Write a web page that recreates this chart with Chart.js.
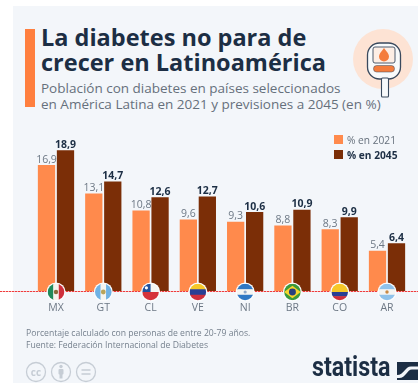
<!DOCTYPE html>
<html lang="es">
<head>
<meta charset="utf-8">
<title>La diabetes no para de crecer en Latinoamérica</title>
<script src="https://cdn.jsdelivr.net/npm/chart.js@4"></script>
<style>
  html, body { margin: 0; padding: 0; background: #fff; }
  #page { position: relative; width: 418px; height: 383px; overflow: hidden; font-family: "Open Sans", sans-serif; }
  #panel { position: absolute; left: 13px; top: 6px; right: 0; bottom: 0; background: #f3f6fa; }
  #accent { position: absolute; left: 25px; top: 29px; width: 10px; height: 78px; background: #ff7f3f; }
  canvas { position: absolute; left: 0; top: 0; }
  .t { position: absolute; white-space: nowrap; }
  #title { left: 41px; top: 25px; font-size: 23.5px; font-weight: 700; line-height: 24.5px; color: #1c2e44; }
  #subtitle { left: 41px; top: 81px; font-size: 13.5px; line-height: 15.5px; color: #66707c; }
  .legend-swatch { position: absolute; width: 9px; height: 9px; }
  .legend-text { font-size: 10.2px; line-height: 12px; color: #66707c; }
  #note { left: 26px; top: 327px; font-size: 8.65px; line-height: 12.4px; color: #76818e; }
  #brand { left: 312px; top: 352px; font-family: "Roboto", sans-serif; font-size: 28px; line-height: 30px; font-weight: 700; color: #1c2e44; transform: scaleX(.83); transform-origin: left top; }
  svg { position: absolute; }
</style>
</head>
<body>
<div id="page">
  <div id="panel"></div>
  <div id="accent"></div>
  <div class="t" id="title">La diabetes no para de<br>crecer en Latinoamérica</div>
  <div class="t" id="subtitle">Población con diabetes en países seleccionados<br>en América Latina en 2021 y previsiones a 2045 (en %)</div>

  <svg style="left:345px;top:20px" width="73" height="80" viewBox="345 20 73 80">
    <circle cx="383" cy="59" r="30" fill="#fde3d4"/>
    <rect x="367.500" y="43" width="33" height="36" rx="12" fill="#f8fafb" stroke="#3a4a5e" stroke-width="1.300"/>
    <rect x="373" y="47" width="22" height="16" rx="2" fill="#fdeee5" stroke="#3a4a5e" stroke-width=".9"/>
    <path d="M384 48 C 387 52 389 54 389 56.500 A 5 5 0 0 1 379 56.500 C 379 54 381 52 384 48 Z" fill="#f47c3c"/>
    <rect x="373.500" y="65.500" width="21" height="6.500" rx="3.200" fill="#f47c3c" stroke="#3a4a5e" stroke-width=".5"/>
    <rect x="381.500" y="78" width="7" height="19" rx="1" fill="#f8fafb" stroke="#3a4a5e" stroke-width="1.100"/>
  </svg>

  <canvas id="chart" width="418" height="383"></canvas>

  <div class="legend-swatch" style="left:334px;top:135px;background:#ff8a4c"></div>
  <div class="t legend-text" style="left:347px;top:134px">% en 2021</div>
  <div class="legend-swatch" style="left:334px;top:150px;background:#7b2e07"></div>
  <div class="t legend-text" style="left:347px;top:149px;font-weight:700;color:#1c2e44">% en 2045</div>

  <div class="t" id="note">Porcentaje calculado con personas de entre 20-79 años.<br>Fuente: Federación Internacional de Diabetes</div>

  <svg style="left:20px;top:358px" width="90" height="25" viewBox="20 358 90 25" fill="none" stroke="#c6cdd5" stroke-width="1.300">
    <circle cx="36" cy="372" r="9.500"/>
    <text x="36" y="375.500" font-family="Open Sans" font-size="10" font-weight="700" text-anchor="middle" fill="#c6cdd5" stroke="none">cc</text>
    <circle cx="61" cy="372" r="9.500"/>
    <circle cx="61" cy="366.500" r="1.700" fill="#c6cdd5" stroke="none"/>
    <rect x="58.500" y="369" width="5" height="5.500" rx="1" fill="#c6cdd5" stroke="none"/>
    <rect x="59.500" y="374" width="3" height="4.500" fill="#c6cdd5" stroke="none"/>
    <circle cx="86" cy="372" r="9.500"/>
    <path d="M81.500 370 H90.500 M81.500 374 H90.500" stroke-width="1.500"/>
  </svg>

  <div class="t" id="brand">statista</div>
  <svg style="left:397px;top:362px" width="21" height="18" viewBox="0 0 21 18">
    <rect width="21" height="18" fill="#1c2e44"/>
    <path d="M0 13 C 7 13 8 4.500 14 4.500 L21 4.500 L21 7.500 L15 7.500 C 10 7.500 9 16 2 16 L0 16 Z" fill="#f3f6fa"/>
  </svg>
</div>

<script>
// Prevalencia de diabetes por país, 2021 y previsión 2045 (%)
const countries = ["MX", "GT", "CL", "VE", "NI", "BR", "CO", "AR"];
const values2021 = [16.9, 13.1, 10.8, 9.6, 9.3, 8.8, 8.3, 5.4];
const values2045 = [18.9, 14.7, 12.6, 12.7, 10.6, 10.9, 9.9, 6.4];
const seriesNames = ["% en 2021", "% en 2045"];
const yMax = 20;

const decimal = v => v.toFixed(1).replace(".", ",");

// Horizontal stripes of a flag, top to bottom
function stripes(ctx, cx, cy, r, colors, weights) {
  const total = weights.reduce((a, b) => a + b, 0);
  let y = cy - r;
  colors.forEach((c, i) => {
    const h = 2 * r * weights[i] / total;
    ctx.fillStyle = c;
    ctx.fillRect(cx - r, y, 2 * r, h + .5);
    y += h;
  });
}

// Vertical stripes of a flag, left to right
function bands(ctx, cx, cy, r, colors) {
  const w = 2 * r / colors.length;
  colors.forEach((c, i) => {
    ctx.fillStyle = c;
    ctx.fillRect(cx - r + i * w, cy - r, w + .5, 2 * r);
  });
}

function dot(ctx, x, y, r, color) {
  ctx.fillStyle = color;
  ctx.beginPath();
  ctx.arc(x, y, r, 0, Math.PI * 2);
  ctx.fill();
}

const flagPainters = {
  MX(ctx, x, y, r) { bands(ctx, x, y, r, ["#1f8a5a", "#f5f3ee", "#cf2f3c"]); dot(ctx, x, y, 2.2, "#8a6a3a"); },
  GT(ctx, x, y, r) { bands(ctx, x, y, r, ["#6fb2e4", "#f5f5f2", "#6fb2e4"]); dot(ctx, x, y, 2.4, "#b9a45a"); },
  CL(ctx, x, y, r) {
    stripes(ctx, x, y, r, ["#f5f5f2", "#d5323a"], [1, 1]);
    ctx.fillStyle = "#1f4f9c";
    ctx.fillRect(x - r, y - r, r, r);
    dot(ctx, x - r / 2, y - r / 2, 1.6, "#fff");
  },
  VE(ctx, x, y, r) { stripes(ctx, x, y, r, ["#f6c728", "#2a3f94", "#cf2f3c"], [1, 1, 1]); },
  NI(ctx, x, y, r) { stripes(ctx, x, y, r, ["#2f78c4", "#f5f5f2", "#2f78c4"], [1, 1, 1]); dot(ctx, x, y, 1.6, "#8fa9c9"); },
  BR(ctx, x, y, r) {
    ctx.fillStyle = "#3a9a3c";
    ctx.fillRect(x - r, y - r, 2 * r, 2 * r);
    ctx.fillStyle = "#f6d62c";
    ctx.beginPath();
    ctx.moveTo(x - r, y); ctx.lineTo(x, y - r * .75); ctx.lineTo(x + r, y); ctx.lineTo(x, y + r * .75);
    ctx.fill();
    dot(ctx, x, y, r * .42, "#27407f");
  },
  CO(ctx, x, y, r) { stripes(ctx, x, y, r, ["#f6c728", "#2a3f94", "#cf2f3c"], [2, 1, 1]); },
  AR(ctx, x, y, r) { stripes(ctx, x, y, r, ["#8fc2ea", "#f5f5f2", "#8fc2ea"], [1, 1, 1]); dot(ctx, x, y, 1.7, "#c98a45"); }
};

// Zero line across the full page width, on top of the bars: a pale red
// rule with brighter red dots along it
const baselinePlugin = {
  id: "baseline",
  afterDatasetsDraw(chart) {
    const { ctx, scales: { y } } = chart;
    const py = Math.round(y.getPixelForValue(0));
    ctx.save();
    ctx.fillStyle = "rgba(240, 70, 70, .35)";
    ctx.fillRect(0, py, chart.width, 1);
    ctx.fillStyle = "#f03c3c";
    for (let px = 0; px < chart.width; px += 3) {
      ctx.fillRect(px, py, 2, 1);
    }
    ctx.restore();
  }
};

// Round country flags straddling the zero line
const flagsPlugin = {
  id: "flags",
  afterDatasetsDraw(chart) {
    const { ctx, scales: { x, y } } = chart;
    const cy = y.getPixelForValue(0) + 1;
    countries.forEach((code, i) => {
      const cx = x.getPixelForValue(i);
      const r = 8.3;
      dot(ctx, cx, cy, r + 1.3, "#fbfcfd");
      ctx.save();
      ctx.beginPath();
      ctx.arc(cx, cy, r, 0, Math.PI * 2);
      ctx.clip();
      flagPainters[code](ctx, cx, cy, r);
      ctx.restore();
    });
  }
};

// Value labels above each bar: plain for 2021, bold for 2045
const valueLabelsPlugin = {
  id: "valueLabels",
  afterDatasetsDraw(chart) {
    const { ctx } = chart;
    ctx.save();
    ctx.textAlign = "center";
    ctx.textBaseline = "alphabetic";
    chart.data.datasets.forEach((ds, di) => {
      ctx.font = (di === 1 ? "700 " : "400 ") + "10.5px 'Open Sans', sans-serif";
      ctx.fillStyle = di === 1 ? "#1c2e44" : "#6d7885";
      chart.getDatasetMeta(di).data.forEach((bar, i) => {
        ctx.fillText(decimal(ds.data[i]), bar.x, bar.y - 2.5);
      });
    });
    ctx.restore();
  }
};

new Chart(document.getElementById("chart"), {
  type: "bar",
  data: {
    labels: countries,
    datasets: [
      { label: seriesNames[0], data: values2021, backgroundColor: "#ff8a4c" },
      { label: seriesNames[1], data: values2045, backgroundColor: "#7b2e07" }
    ]
  },
  options: {
    responsive: false,
    animation: false,
    layout: { padding: { left: 32.35, right: 7.35, top: 142, bottom: 62 } },
    plugins: { legend: { display: false }, tooltip: { enabled: false } },
    datasets: { bar: { categoryPercentage: 0.803, barPercentage: 0.91 } },
    scales: {
      x: {
        grid: { display: false },
        border: { display: false },
        ticks: { color: "#6d7885", font: { size: 10.5, family: "'Open Sans', sans-serif" }, padding: 3, maxRotation: 0 },
        afterFit(scale) { scale.height = 30; }
      },
      y: { display: false, min: 0, max: yMax }
    }
  },
  plugins: [valueLabelsPlugin, baselinePlugin, flagsPlugin]
});
</script>
</body>
</html>
